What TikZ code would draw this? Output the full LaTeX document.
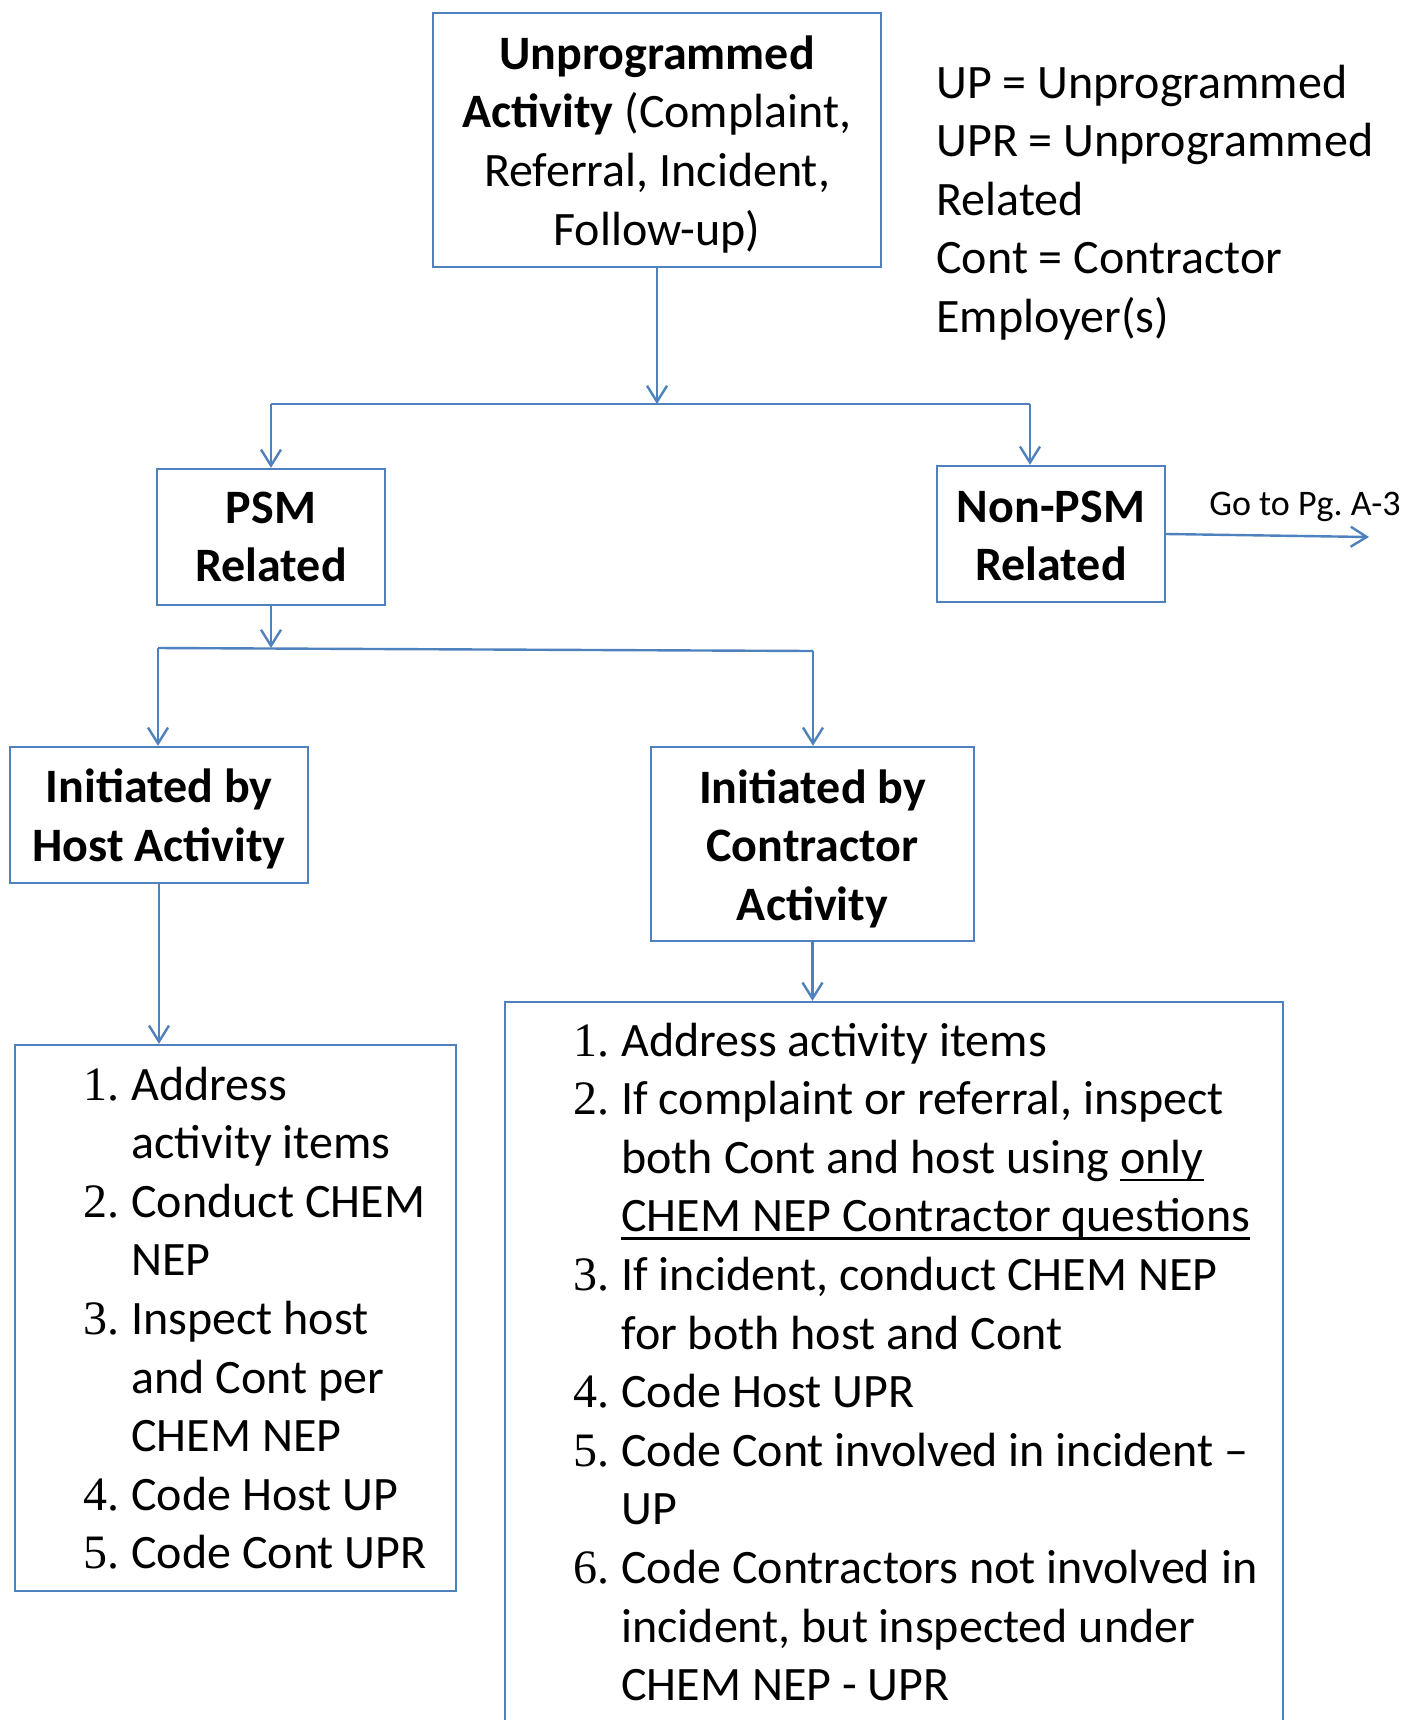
\documentclass[tikz,border=0pt]{standalone}
\usepackage{fontspec}
\setmainfont{Carlito}
\newfontfamily\numfont{Liberation Serif}
\usetikzlibrary{arrows.meta}
\definecolor{boxblue}{RGB}{79,129,189}
\newcommand\nitem[1]{\makebox[24pt][l]{\numfont #1.}}
\newcommand\nind{\hspace*{24pt}}
\newcommand\undl[1]{\setbox0\hbox{#1}\rlap{\rule[-4pt]{\wd0}{1.2pt}}\box0}
\newcommand\lift[1]{\rule{0pt}{#1}}

\begin{document}
\begin{tikzpicture}[x=0.5pt,y=-0.5pt]

			\tikzstyle{txt}=[font=\fontsize{24}{29.3}\selectfont,inner sep=0pt]
			\tikzstyle{box}=[draw=boxblue,line width=1.2pt,
				align=center,inner sep=0pt,
				font=\fontsize{24}{29.3}\selectfont]
			\tikzstyle{head}=[box,
				font=\fontsize{24}{29.3}\selectfont\bfseries]
			\tikzstyle{link}=[draw=boxblue,line width=1.2pt]
			\tikzstyle{flow}=[link,-{Straight Barb[length=8pt,width=10pt]}]

			\clip (0,0) rectangle (1409,1720);

			\node[box,minimum width=224pt,minimum height=127pt]	(up)	at (657,140)
				{\lift{21pt}\textbf{Unprogrammed}\\\textbf{Activity} (Complaint,\\Referral, Incident,\\Follow-up)};
			\node[txt,anchor=base west]	(key)	at (936,98)
				{\begin{tabular}[t]{@{}l@{}}UP = Unprogrammed\\UPR = Unprogrammed\\Related\\Cont = Contractor\\Employer(s)\end{tabular}};

			\node[head,minimum width=114pt,minimum height=68pt]	(psm)	at (271,537)	{PSM\\Related};
			\node[head,minimum width=114pt,minimum height=68pt]	(npsm)	at (1051,534)	{\lift{17.8pt}Non-PSM\\Related};
			\node[head,minimum width=149pt,minimum height=68pt]	(host)	at (159,815)	{\lift{21pt}Initiated by\\Host Activity};
			\node[head,minimum width=161.5pt,minimum height=97pt]	(cont)	at (812.5,844)	{\lift{21.6pt}Initiated by\\Contractor\\Activity};

			\node[font=\fontsize{18}{22}\selectfont,inner sep=0pt,anchor=base west]	(goto)	at (1209,515)	{Go to Pg.\ A-3};
			\coordinate (gend) at (1369,537);

			\node[box,minimum width=220.5pt,minimum height=273pt]	(hlist)	at (235.5,1318)	{};
			\node[box,minimum width=389pt,minimum height=370pt]	(clist)	at (894,1372)	{};

			\node[txt,anchor=base west]	(htext)	at (83,1100)
				{\begin{tabular}[t]{@{}l@{}}
					\nitem{1}Address\\
					\nind activity items\\
					\nitem{2}Conduct CHEM\\
					\nind NEP\\
					\nitem{3}Inspect host\\
					\nind and Cont per\\
					\nind CHEM NEP\\
					\nitem{4}Code Host UP\\
					\nitem{5}Code Cont UPR
				\end{tabular}};
			\node[txt,anchor=base west]	(ctext)	at (573,1056)
				{\begin{tabular}[t]{@{}l@{}}
					\nitem{1}Address activity items\\
					\nitem{2}If complaint or referral, inspect\\
					\nind both Cont and host using \undl{only}\\
					\nind \undl{CHEM NEP Contractor questions}\\
					\nitem{3}If incident, conduct CHEM NEP\\
					\nind for both host and Cont\\
					\nitem{4}Code Host UPR\\
					\nitem{5}Code Cont involved in incident --\\
					\nind UP\\
					\nitem{6}Code Contractors not involved in\\
					\nind incident, but inspected under\\
					\nind CHEM NEP - UPR
				\end{tabular}};

			% first split
			\coordinate (j1) at (657,404);
			\coordinate (j1l) at (271,404);
			\coordinate (j1r) at (1030,404);
			\draw[flow] (up.south) -- (j1);
			\draw[link] (j1l) -- (j1r);
			\draw[flow] (j1l) -- (psm.north);
			\draw[flow] (j1r) -- (j1r |- npsm.north);
			\draw[flow] (npsm.east) -- (gend);

			% second split
			\coordinate (j2) at (271,648);
			\coordinate (j2l) at (158,648);
			\coordinate (j2r) at (813,651);
			\draw[flow] (psm.south) -- (j2);
			\draw[link] (j2l) -- (j2r);
			\draw[flow] (j2l) -- (j2l |- host.north);
			\draw[flow] (j2r) -- (j2r |- cont.north);

			\draw[flow] (host.south) -- (host.south |- hlist.north);
			\draw[flow] (cont.south) -- (cont.south |- clist.north);

\end{tikzpicture}
\end{document}
